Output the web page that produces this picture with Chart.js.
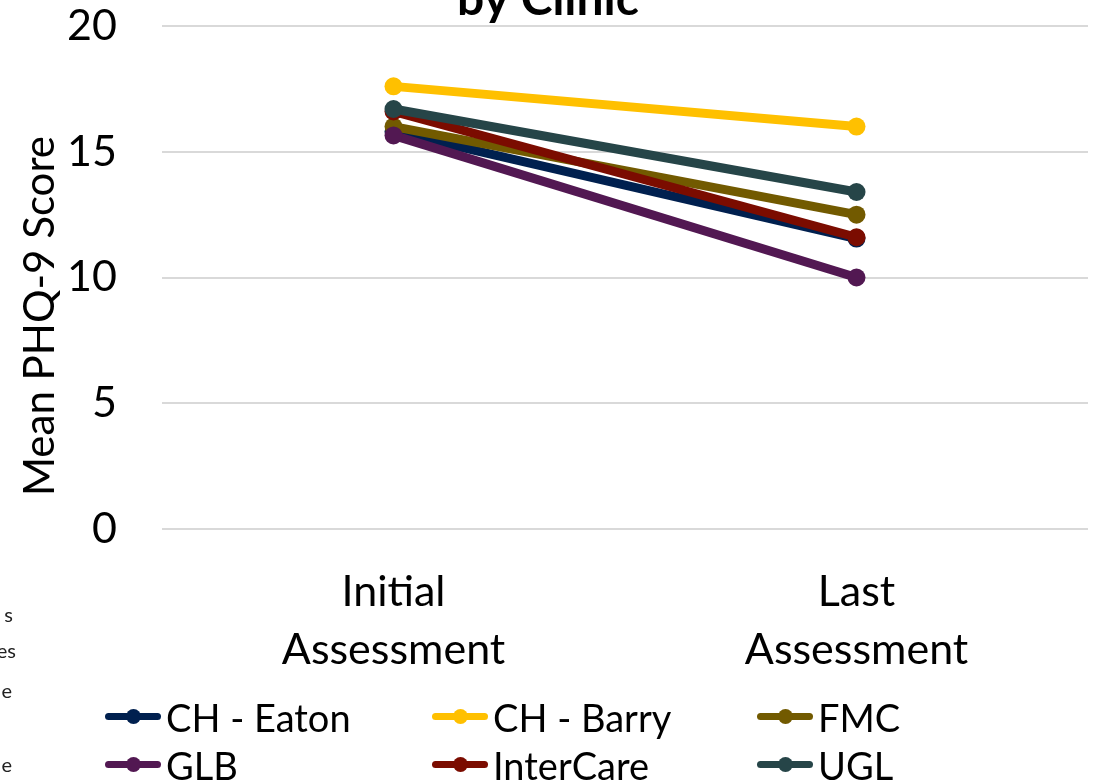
<html>
<head>
  <title>Mean PHQ-9 Score by Clinic</title>
  <script src="https://cdn.jsdelivr.net/npm/chart.js"></script>
  <style>
    body { margin: 0; background: #fff; overflow: hidden; }
    #wrap { position: relative; width: 1097px; height: 781px; font-family: Lato, sans-serif; }
    #phqChart { position: absolute; left: 0; top: 0; }
    .side { position: absolute; right: 1082px; font-size: 20px; color: #222; white-space: nowrap; }
    .leg { position: absolute; height: 48px; display: flex; align-items: center; font-size: 38px; color: #000; white-space: nowrap; }
    .mark { position: relative; width: 56px; height: 48px; margin-right: 5px; }
    .mark .ln { position: absolute; left: 0; top: 20px; width: 56px; height: 7px; border-radius: 4px; }
    .mark .dt { position: absolute; left: 21px; top: 16px; width: 15px; height: 15px; border-radius: 50%; }
  </style>
</head>
<body>
  <div id="wrap">
    <canvas id="phqChart" width="1097" height="781"></canvas>
    <div class="side" style="top:602px;right:1084px">s</div>
    <div class="side" style="top:638px;right:1081px">es</div>
    <div class="side" style="top:678px;right:1085px">e</div>
    <div class="side" style="top:752px;right:1085px">e</div>
    <div id="legend"></div>
  </div>

  <script>
    const categories = [["Initial", "Assessment"], ["Last", "Assessment"]];
    const clinics = ["CH - Eaton", "CH - Barry", "FMC", "GLB", "InterCare", "UGL"];
    const colors = ["#00204f", "#ffc000", "#725a00", "#521852", "#7b0c00", "#264548"];
    const eaton = [15.8, 11.55];
    const barry = [17.6, 16.0];
    const fmc = [16.0, 12.5];
    const glb = [15.65, 10.0];
    const interCare = [16.6, 11.6];
    const ugl = [16.7, 13.4];
    const yTicks = [0, 5, 10, 15, 20];

    const series = [eaton, barry, fmc, glb, interCare, ugl];

    // html legend, 3 per row
    const legend = document.getElementById("legend");
    const legX = [105, 432, 757];
    const legY = [693, 741];
    clinics.forEach((name, i) => {
      const item = document.createElement("div");
      item.className = "leg";
      item.style.left = legX[i % 3] + "px";
      item.style.top = legY[Math.floor(i / 3)] + "px";
      item.innerHTML = `<div class="mark"><div class="ln" style="background:${colors[i]}"></div><div class="dt" style="background:${colors[i]}"></div></div><span>${name}</span>`;
      legend.appendChild(item);
    });

    const extraText = {
      id: "extraText",
      afterDraw(chart) {
        const ctx = chart.ctx;
        ctx.save();
        ctx.fillStyle = "#000";
        ctx.font = "bold 48px Lato, sans-serif";
        ctx.textAlign = "center";
        ctx.textBaseline = "alphabetic";
        ctx.fillText("by Clinic", 548, 15);
        ctx.translate(40, 316);
        ctx.rotate(-Math.PI / 2);
        ctx.font = "42px Lato, sans-serif";
        ctx.textBaseline = "middle";
        ctx.fillText("Mean PHQ-9 Score", 0, 0);
        ctx.restore();
      }
    };

    const ctx = document.getElementById("phqChart").getContext("2d");
    new Chart(ctx, {
      type: "line",
      data: {
        labels: categories,
        datasets: series.map((vals, i) => ({
          label: clinics[i],
          data: vals,
          borderColor: colors[i],
          backgroundColor: colors[i],
          borderWidth: 9,
          pointRadius: 9,
          pointHoverRadius: 9,
          pointBorderWidth: 0,
          order: clinics.length - i
        }))
      },
      options: {
        responsive: false,
        animation: false,
        layout: { padding: { top: 26, right: 7, left: 0, bottom: 0 } },
        plugins: { legend: { display: false }, tooltip: { enabled: false } },
        scales: {
          x: {
            offset: true,
            grid: { display: false },
            border: { display: false },
            ticks: { color: "#000", padding: 26, font: { family: "Lato", size: 43, lineHeight: 1.35 } },
            afterFit(s) { s.height = 252; }
          },
          y: {
            min: 0,
            max: 20,
            afterBuildTicks(s) { s.ticks = yTicks.map(v => ({ value: v })); },
            grid: { color: "#d9d9d9", lineWidth: 2, drawTicks: false },
            border: { display: false },
            ticks: { color: "#000", padding: 45, font: { family: "Lato", size: 43 } },
            afterFit(s) { s.width = 162; s.paddingTop = 0; s.paddingBottom = 0; }
          }
        }
      },
      plugins: [extraText]
    });
  </script>
</body>
</html>
